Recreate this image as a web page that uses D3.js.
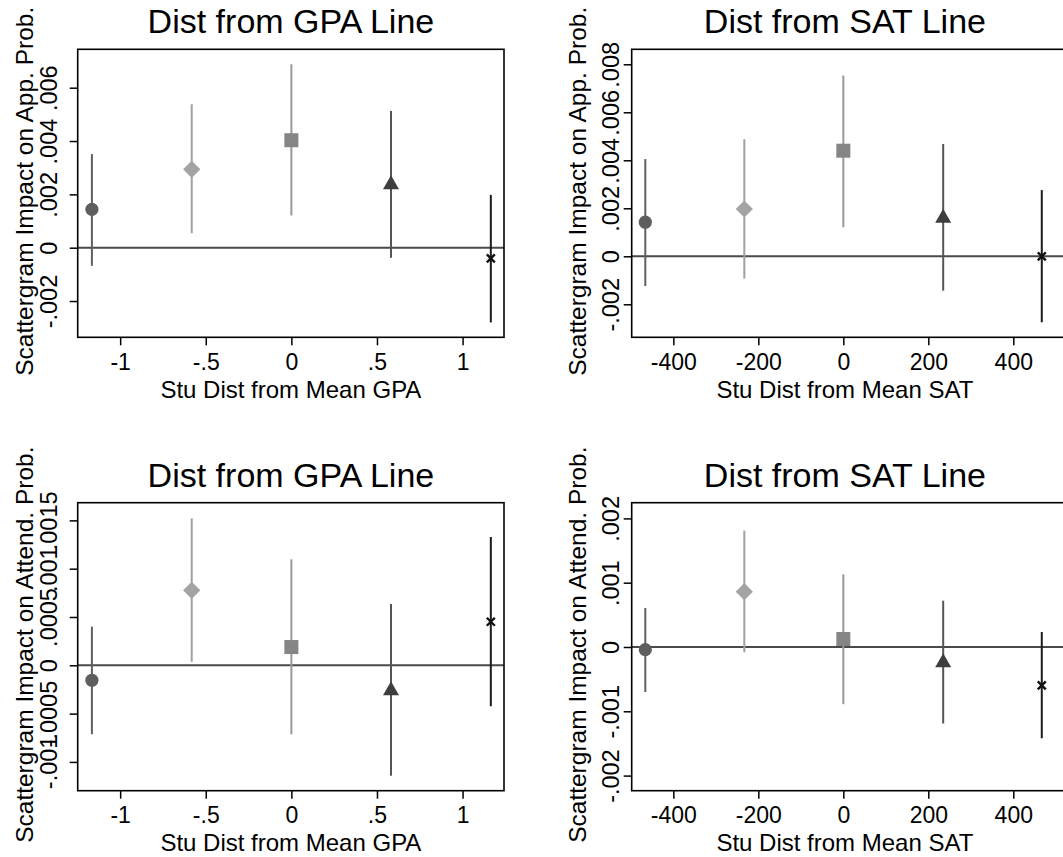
<!DOCTYPE html>
<html>
<head>
<meta charset="utf-8">
<script src="https://cdn.jsdelivr.net/npm/d3@7"></script>
<style>
  html, body { margin: 0; padding: 0; background: #fff; }
  svg { display: block; }
  text { font-family: "Liberation Sans", Arial, Helvetica, sans-serif; fill: #000; }
</style>
</head>
<body>
<svg id="chart" width="1063" height="857"></svg>
<script>
// ---------------- DATA ----------------
const gpaX = [-1.165, -0.582, 0, 0.582, 1.165];
const satX = [-466, -233, 0, 235, 467];

const appGpaEst = [0.00144, 0.00294, 0.00403, 0.00245, -0.00040];
const appGpaLo  = [-0.00068, 0.00054, 0.00121, -0.00038, -0.00280];
const appGpaHi  = [0.00351, 0.00538, 0.00688, 0.00513, 0.00198];

const appSatEst = [0.00142, 0.00197, 0.00440, 0.00169, 0.00000];
const appSatLo  = [-0.00124, -0.00093, 0.00121, -0.00143, -0.00275];
const appSatHi  = [0.00405, 0.00488, 0.00753, 0.00468, 0.00276];

const attGpaEst = [-0.000155, 0.000776, 0.000189, -0.000238, 0.000451];
const attGpaLo  = [-0.000714, 0.000037, -0.000714, -0.001143, -0.000424];
const attGpaHi  = [0.000400, 0.001520, 0.001097, 0.000635, 0.001328];

const attSatEst = [-0.000042, 0.000860, 0.000124, -0.000207, -0.000596];
const attSatLo  = [-0.000700, -0.000082, -0.000890, -0.001190, -0.001420];
const attSatHi  = [0.000607, 0.001810, 0.001130, 0.000720, 0.000233];

const gpaTicks = [-1, -0.5, 0, 0.5, 1];
const gpaTickLabels = ["-1", "-.5", "0", ".5", "1"];
const satTicks = [-400, -200, 0, 200, 400];
const satTickLabels = ["-400", "-200", "0", "200", "400"];

const appGpaYTicks = [-0.002, 0, 0.002, 0.004, 0.006];
const appGpaYLabels = ["-.002", "0", ".002", ".004", ".006"];
const appSatYTicks = [-0.002, 0, 0.002, 0.004, 0.006, 0.008];
const appSatYLabels = ["-.002", "0", ".002", ".004", ".006", ".008"];
const attGpaYTicks = [-0.001, -0.0005, 0, 0.0005, 0.001, 0.0015];
const attGpaYLabels = ["-.001", "-.0005", "0", ".0005", ".001", ".0015"];
const attSatYTicks = [-0.002, -0.001, 0, 0.001, 0.002];
const attSatYLabels = ["-.002", "-.001", "0", ".001", ".002"];

const titles = ["Dist from GPA Line", "Dist from SAT Line"];
const xTitles = ["Stu Dist from Mean GPA", "Stu Dist from Mean SAT"];
const yTitles = ["Scattergram Impact on App. Prob.", "Scattergram Impact on Attend. Prob."];

// ---------------- STYLE ----------------
const markerFill = ["#5e5e5e", "#a3a3a3", "#858585", "#3e3e3e", "#111111"];
const barColor   = ["#606060", "#a0a0a0", "#999999", "#555555", "#1c1c1c"];

const svg = d3.select("#chart");

const panels = [
  { left: 77.7, right: 504, top: 49.3, bottom: 337.3,
    xd: [-1.248, 1.242], yd: [-0.00336, 0.00744],
    xs: gpaX, est: appGpaEst, lo: appGpaLo, hi: appGpaHi,
    xt: gpaTicks, xl: gpaTickLabels, yt: appGpaYTicks, yl: appGpaYLabels,
    title: titles[0], xTitle: xTitles[0], yTitle: yTitles[0], ylabOff: 20.5, ytitOff: 45 },
  { left: 631.7, right: 1066, top: 49.3, bottom: 337.3,
    xd: [-498, 524], yd: [-0.003375, 0.008625],
    xs: satX, est: appSatEst, lo: appSatLo, hi: appSatHi,
    xt: satTicks, xl: satTickLabels, yt: appSatYTicks, yl: appSatYLabels,
    title: titles[1], xTitle: xTitles[1], yTitle: yTitles[0], ylabOff: 13, ytitOff: 46 },
  { left: 77.7, right: 504, top: 502.7, bottom: 790.7,
    xd: [-1.248, 1.242], yd: [-0.001298, 0.001683],
    xs: gpaX, est: attGpaEst, lo: attGpaLo, hi: attGpaHi,
    xt: gpaTicks, xl: gpaTickLabels, yt: attGpaYTicks, yl: attGpaYLabels,
    title: titles[0], xTitle: xTitles[0], yTitle: yTitles[1], ylabOff: 20.5, ytitOff: 45 },
  { left: 631.7, right: 1066, top: 502.7, bottom: 790.7,
    xd: [-498, 524], yd: [-0.002235, 0.002244],
    xs: satX, est: attSatEst, lo: attSatLo, hi: attSatHi,
    xt: satTicks, xl: satTickLabels, yt: attSatYTicks, yl: attSatYLabels,
    title: titles[1], xTitle: xTitles[1], yTitle: yTitles[1], ylabOff: 13, ytitOff: 46 }
];

panels.forEach(p => {
  const x = d3.scaleLinear().domain(p.xd).range([p.left, p.right]);
  const y = d3.scaleLinear().domain(p.yd).range([p.bottom, p.top]);
  const g = svg.append("g");
  const cx = p.left + 213.2; // visual center of plot region
  const cy = (p.top + p.bottom) / 2;

  // zero line
  g.append("line")
    .attr("x1", p.left).attr("x2", p.right)
    .attr("y1", y(0)).attr("y2", y(0))
    .attr("stroke", "#4a4a4a").attr("stroke-width", 2);

  // error bars
  p.xs.forEach((xv, i) => {
    g.append("line")
      .attr("x1", x(xv)).attr("x2", x(xv))
      .attr("y1", y(p.lo[i])).attr("y2", y(p.hi[i]))
      .attr("stroke", barColor[i]).attr("stroke-width", 2);
  });

  // markers
  p.xs.forEach((xv, i) => {
    const px = x(xv), py = y(p.est[i]);
    if (i === 0) {
      g.append("circle").attr("cx", px).attr("cy", py).attr("r", 6.6).attr("fill", markerFill[i]);
    } else if (i === 1) {
      const s = 8.6;
      g.append("path").attr("d", `M${px},${py - s}L${px + s},${py}L${px},${py + s}L${px - s},${py}Z`).attr("fill", markerFill[i]);
    } else if (i === 2) {
      const s = 7;
      g.append("rect").attr("x", px - s).attr("y", py - s).attr("width", 2 * s).attr("height", 2 * s).attr("fill", markerFill[i]);
    } else if (i === 3) {
      const w = 8, h = 7;
      g.append("path").attr("d", `M${px},${py - h}L${px + w},${py + h}L${px - w},${py + h}Z`).attr("fill", markerFill[i]);
    } else {
      const s = 4;
      g.append("path").attr("d", `M${px - s},${py - s}L${px + s},${py + s}M${px + s},${py - s}L${px - s},${py + s}`)
        .attr("stroke", markerFill[i]).attr("stroke-width", 2.4).attr("fill", "none");
    }
  });

  // frame
  g.append("rect")
    .attr("x", p.left).attr("y", p.top)
    .attr("width", p.right - p.left).attr("height", p.bottom - p.top)
    .attr("fill", "none").attr("stroke", "#000").attr("stroke-width", 1.6);

  // x axis
  const xa = g.append("g").attr("transform", `translate(0,${p.bottom})`)
    .call(d3.axisBottom(x).tickValues(p.xt).tickFormat((d, i) => p.xl[i]).tickSize(8).tickSizeOuter(0));
  xa.select(".domain").remove();
  xa.selectAll(".tick line").attr("stroke", "#000").attr("stroke-width", 1.5);
  xa.selectAll(".tick text")
    .attr("y", null).attr("dy", null)
    .attr("transform", `translate(0,32.5)`)
    .attr("font-size", 23).attr("font-family", null).attr("fill", "#000");

  // y axis
  const ya = g.append("g").attr("transform", `translate(${p.left},0)`)
    .call(d3.axisLeft(y).tickValues(p.yt).tickFormat((d, i) => p.yl[i]).tickSize(8).tickSizeOuter(0));
  ya.select(".domain").remove();
  ya.selectAll(".tick line").attr("stroke", "#000").attr("stroke-width", 1.5);
  ya.selectAll(".tick text")
    .attr("x", null).attr("dy", null)
    .attr("text-anchor", "middle")
    .attr("transform", `translate(${-p.ylabOff},0) rotate(-90)`)
    .attr("font-size", 23.5).attr("font-family", null).attr("fill", "#000");

  // titles
  g.append("text")
    .attr("text-anchor", "middle")
    .attr("transform", `translate(${cx},${p.top - 16})`)
    .attr("font-size", 34).text(p.title);
  g.append("text")
    .attr("text-anchor", "middle")
    .attr("transform", `translate(${cx},${p.bottom + 60.7})`)
    .attr("font-size", 24).text(p.xTitle);
  g.append("text")
    .attr("text-anchor", "middle")
    .attr("transform", `translate(${p.left - p.ytitOff},${cy - 2}) rotate(-90)`)
    .attr("font-size", 24.5).text(p.yTitle);
});
</script>
</body>
</html>
